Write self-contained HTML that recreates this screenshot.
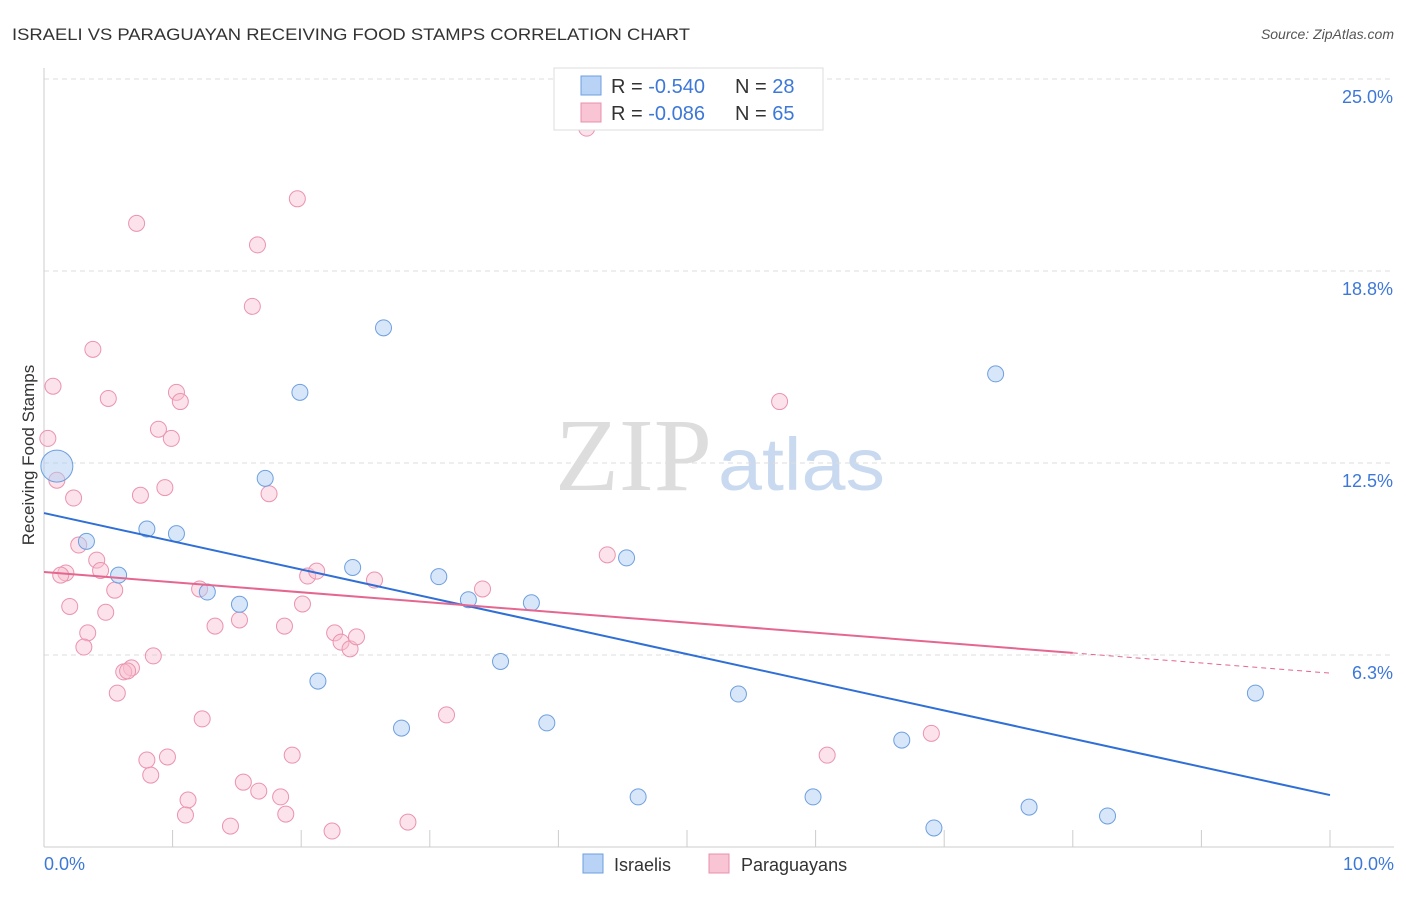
<!DOCTYPE html>
<html><head><meta charset="utf-8"><style>
body{margin:0;background:#fff;font-family:"Liberation Sans",sans-serif}
svg text{font-family:"Liberation Sans",sans-serif}
</style></head><body>
<svg id="c" width="1406" height="892">
<text x="12" y="40" font-size="17" fill="#333" textLength="678" lengthAdjust="spacingAndGlyphs">ISRAELI VS PARAGUAYAN RECEIVING FOOD STAMPS CORRELATION CHART</text>
<text x="1394" y="39" font-size="14" fill="#555" font-style="italic" text-anchor="end">Source: ZipAtlas.com</text>
<text x="555" y="490" font-size="104" fill="#ddd"><tspan font-family="Liberation Serif" textLength="157" lengthAdjust="spacingAndGlyphs">ZIP</tspan><tspan fill="#c9daf0" dx="6" font-size="74" textLength="167" lengthAdjust="spacingAndGlyphs">atlas</tspan></text>
<text transform="translate(34,455) rotate(-90)" font-size="17" fill="#333" text-anchor="middle">Receiving Food Stamps</text>
<g id="grid"></g><g id="pts"></g><g id="lines"></g>
<g>
<rect x="554" y="68" width="269" height="62" fill="#fff" stroke="#ddd"/>
<rect x="581" y="76" width="20" height="19" fill="#b8d3f5" stroke="#6d9fe0"/>
<rect x="581" y="103" width="20" height="19" fill="#f9c5d4" stroke="#e890ab"/>
<text x="611" y="93" font-size="20" fill="#333">R = <tspan fill="#3d78d8">-0.540</tspan></text>
<text x="735" y="93" font-size="20" fill="#333">N = <tspan fill="#3d78d8">28</tspan></text>
<text x="611" y="120" font-size="20" fill="#333">R = <tspan fill="#3d78d8">-0.086</tspan></text>
<text x="735" y="120" font-size="20" fill="#333">N = <tspan fill="#3d78d8">65</tspan></text>
</g>
<g>
<rect x="583" y="854" width="20" height="19" fill="#b8d3f5" stroke="#6d9fe0"/>
<text x="614" y="871" font-size="18" fill="#333">Israelis</text>
<rect x="709" y="854" width="20" height="19" fill="#f9c5d4" stroke="#e890ab"/>
<text x="741" y="871" font-size="18" fill="#333">Paraguayans</text>
</g>
</svg>
<script>
const yTicks=[25.0,18.8,12.5,6.3];
const yTickVals=[25,18.75,12.5,6.25];
const xLabels=["0.0%","10.0%"];
const israeliX=[0.10,0.33,0.58,0.80,1.03,1.27,1.52,1.72,1.99,2.13,2.40,2.64,2.78,3.07,3.30,3.55,3.79,3.91,4.53,4.62,5.40,5.98,6.67,6.92,7.40,7.66,8.27,9.42];
const israeliY=[12.4,9.95,8.85,10.35,10.2,8.3,7.9,12.0,14.8,5.4,9.1,16.9,3.87,8.8,8.05,6.04,7.95,4.04,9.41,1.63,4.98,1.63,3.48,0.62,15.4,1.3,1.01,5.01];
const paraX=[4.22,1.97,0.72,1.66,1.62,0.38,0.07,0.03,0.50,1.03,1.06,0.89,0.99,0.10,0.23,0.75,0.94,1.75,0.27,0.41,0.17,0.13,0.44,0.55,1.21,0.20,0.48,0.34,0.31,1.33,1.52,1.87,2.01,2.05,2.12,2.57,3.41,4.38,5.72,2.26,2.31,2.38,2.43,0.85,0.68,0.62,0.65,0.57,1.23,3.13,1.93,0.80,0.96,0.83,1.55,1.67,1.12,1.84,1.10,1.88,1.45,2.24,2.83,6.09,6.90];
const paraY=[23.4,21.1,20.3,19.6,17.6,16.2,15.0,13.3,14.6,14.8,14.5,13.6,13.3,11.94,11.36,11.45,11.7,11.5,9.83,9.34,8.92,8.85,9.0,8.36,8.4,7.83,7.64,6.97,6.51,7.19,7.39,7.19,7.91,8.82,8.98,8.69,8.4,9.51,14.5,6.97,6.67,6.45,6.84,6.22,5.83,5.7,5.73,5.01,4.17,4.3,2.99,2.83,2.93,2.34,2.11,1.82,1.53,1.63,1.04,1.07,0.68,0.52,0.81,2.99,3.7];
const israeliTrend=[10.87,1.69];
const paraTrend=[8.95,5.66];
const paraSolidEnd=8.0;
const sx=v=>44+v*128.6, sy=v=>847-v*30.72;
const NS="http://www.w3.org/2000/svg";
function mk(tag,attrs,parent){const e=document.createElementNS(NS,tag);for(const k in attrs)e.setAttribute(k,attrs[k]);parent.appendChild(e);return e;}
const g=document.getElementById('grid');
yTickVals.forEach((v,i)=>{
 const l=mk('line',{x1:44,x2:1394,y1:sy(v),y2:sy(v),stroke:'#ddd','stroke-dasharray':'5,4'},g);
 
 
 const t=mk('text',{x:1393,y:sy(v)+24,'font-size':18,fill:'#3d78d8','text-anchor':'end'},g);
 t.textContent=yTicks[i].toFixed(1)+'%';
 
 
});
const ax=mk('line',{x1:44,x2:1394,y1:847,y2:847,stroke:'#ccc'},g);


const ay=mk('line',{x1:44,x2:44,y1:68,y2:847,stroke:'#ccc'},g);


for(let i=0;i<=10;i++){const tk=mk('line',{x1:sx(i),x2:sx(i),y1:830,y2:847,stroke:'#ccc'},g);
 
 }
[[0,xLabels[0],'start',44],[10,xLabels[1],'end',1394]].forEach(a=>{
 const t=mk('text',{x:a[3],y:870,'font-size':18,fill:'#3d78d8','text-anchor':a[2]},g);t.textContent=a[1];
 
 });
const p=document.getElementById('pts');
paraX.forEach((x,i)=>{const c=mk('circle',{cx:sx(x),cy:sy(paraY[i]),r:8,fill:'rgba(249,190,208,0.45)',stroke:'#eb93ae','stroke-width':1},p);
 
 });
israeliX.forEach((x,i)=>{const c=mk('circle',{cx:sx(x),cy:sy(israeliY[i]),r:i==0?16:8,fill:'rgba(176,205,243,0.5)',stroke:'#6d9fe0','stroke-width':1},p);
 
 });
const L=document.getElementById('lines');
const bl=mk('line',{x1:sx(0),y1:sy(israeliTrend[0]),x2:sx(10),y2:sy(israeliTrend[1]),stroke:'#2f6fd6','stroke-width':2},L);


const pv=x=>paraTrend[0]+(paraTrend[1]-paraTrend[0])*x/10;
const pl=mk('line',{x1:sx(0),y1:sy(pv(0)),x2:sx(paraSolidEnd),y2:sy(pv(paraSolidEnd)),stroke:'#e5668f','stroke-width':2},L);


const pd=mk('line',{x1:sx(paraSolidEnd),y1:sy(pv(paraSolidEnd)),x2:sx(10),y2:sy(pv(10)),stroke:'#e5668f','stroke-width':1,'stroke-dasharray':'5,4'},L);


</script>
</body></html>
